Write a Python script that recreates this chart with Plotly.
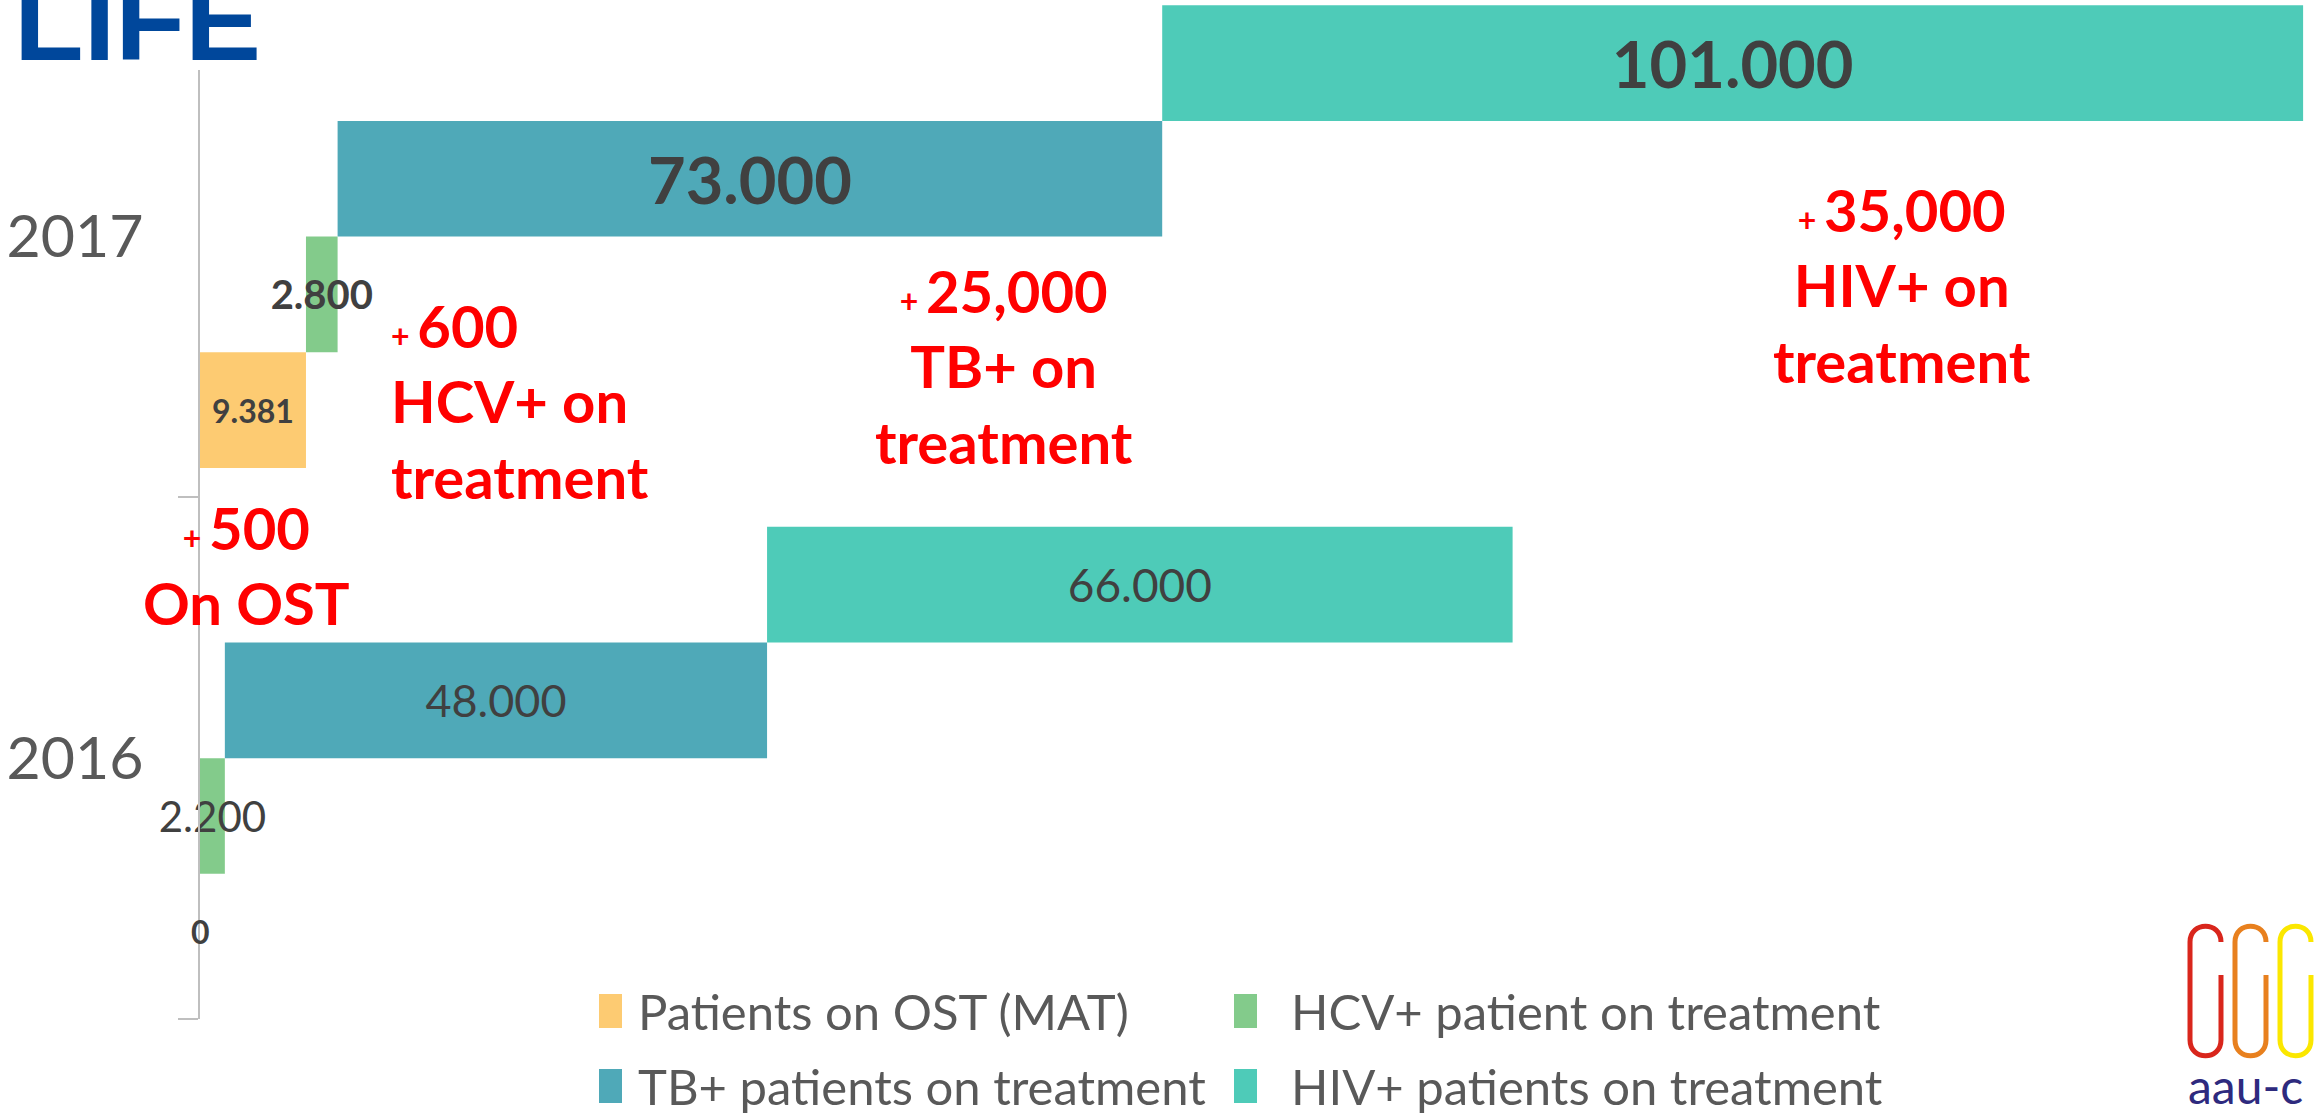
import numpy as np
import plotly.graph_objects as go

# ---------------- data ----------------
years = ["2016", "2017"]
series_names = [
    "Patients on OST (MAT)",
    "HCV+ patient on treatment",
    "TB+ patients on treatment",
    "HIV+ patients on treatment",
]
ost_values = [0, 9381]
hcv_values = [2200, 2800]
tb_values = [48000, 73000]
hiv_values = [66000, 101000]

increase_texts = [
    ("+", "500", ["On OST"]),
    ("+", "600", ["HCV+ on", "treatment"]),
    ("+", "25,000", ["TB+ on", "treatment"]),
    ("+", "35,000", ["HIV+ on", "treatment"]),
]

# ---------------- style ----------------
colors = ["#FDCB72", "#83CB8B", "#4FA9B8", "#4ECBB8"]
FONT = "Lato, 'Open Sans', sans-serif"
W, H = 2318, 1116
ML, MR, MT, MB = 200, 0, 0, 97
PW, PH = W - ML - MR, H - MT - MB
BARGAP = 0.113

def px2x(px):
    return (px - ML) / PW

def px2y(py):
    return (MT + PH - py) / PH

values = np.array([ost_values, hcv_values, tb_values, hiv_values])
bases = np.vstack([np.zeros((1, values.shape[1])), np.cumsum(values, axis=0)[:-1]])

# label sizes per series per year (2016, 2017)
label_sizes = [[32, 32], [42, 40], [45, 65], [46, 65]]

def fmt(v):
    return f"{int(v):,}".replace(",", ".")

fig = go.Figure()
annotations = []
shapes = []
n = len(series_names)
slot = (1 - BARGAP) / n
for k in range(n):
    texts = []
    for j, yr in enumerate(years):
        t = fmt(values[k][j])
        if j == 1 or values[k][j] == 0:
            t = f"<b>{t}</b>"
        texts.append(t)
    fig.add_trace(go.Bar(
        y=years, x=values[k], base=bases[k], orientation="h",
        name=series_names[k],
        marker=dict(color=colors[k], line=dict(width=0)),
        text=texts, textposition="inside", insidetextanchor="middle",
        textangle=0, constraintext="none", cliponaxis=False,
        insidetextfont=dict(family=FONT, size=label_sizes[k], color="#404040"),
        showlegend=False,
        hoverinfo="skip",
    ))
    # zero-width bars: plotly hides inside text, so label via annotation
    for j, yr in enumerate(years):
        if values[k][j] == 0:
            annotations.append(dict(
                x=bases[k][j], y=j + (k - (n - 1) / 2) * slot, xref="x", yref="y",
                text=texts[j], showarrow=False,
                font=dict(family=FONT, size=label_sizes[k][j], color="#404040"),
            ))

# legend (2 x 2 grid): swatch + label
leg_cols = [(599, 622, 636), (1234, 1257, 1289)]
leg_rows = [1011, 1086]
for k in range(n):
    sx0, sx1, tx = leg_cols[k % 2]
    cy = leg_rows[k // 2]
    shapes.append(dict(type="rect", xref="paper", yref="paper",
                       x0=px2x(sx0), x1=px2x(sx1), y0=px2y(cy + 17), y1=px2y(cy - 17),
                       fillcolor=colors[k], line=dict(width=0), layer="above"))
    annotations.append(dict(
        x=px2x(tx), y=px2y(cy), xref="paper", yref="paper", xanchor="left", yanchor="middle",
        text=series_names[k], showarrow=False,
        font=dict(family=FONT, size=49, color="#595959"),
    ))

# red increase annotations
inc_pos = [
    (246, 565, "center"),
    (389, 401, "left"),
    (1004, 366, "center"),
    (1902, 285, "center"),
]
for (plus, num, lines), (px, py, al) in zip(increase_texts, inc_pos):
    txt = f"<span style='font-size:32px'>{plus} </span>{num}<br>" + "<br>".join(lines)
    annotations.append(dict(
        x=px2x(px), y=px2y(py), xref="paper", yref="paper",
        xanchor="left" if al == "left" else "center", yanchor="middle", align=al,
        text=txt, showarrow=False,
        font=dict(family=FONT, size=58, color="#FF0000", weight="bold"),
    ))

# LIFE logo fragment
annotations.append(dict(
    x=px2x(12), y=px2y(-45), xref="paper", yref="paper", xanchor="left", yanchor="top",
    text="LIFE", showarrow=False,
    font=dict(family="Liberation Sans, Arial, sans-serif", size=114, color="#00479B", weight="bold"),
))
# aau logo text
annotations.append(dict(
    x=px2x(2186), y=px2y(1085), xref="paper", yref="paper", xanchor="left", yanchor="middle",
    text="aau-c", showarrow=False,
    font=dict(family=FONT, size=48, color="#2E2A7E"),
))

# hide the axis line behind the LIFE logo
shapes.append(dict(type="rect", xref="paper", yref="paper", x0=px2x(185), x1=px2x(215),
                   y0=px2y(70), y1=px2y(-5), fillcolor="white", line=dict(width=0), layer="above"))
# aau logo glyphs
for off, col in zip([0, 45, 90], ["#D9261C", "#E8801E", "#FBE700"]):
    xl, xr = 2190 + off, 2221 + off
    ym = 975
    def P(x, y):
        return f"{px2x(x):.5f},{px2y(y):.5f}"
    path = (f"M{P(xr, 942)} C{P(xr, 921)} {P(xl, 921)} {P(xl, 942)} "
            f"L{P(xl, 1040)} C{P(xl, 1061)} {P(xr, 1061)} {P(xr, 1040)} L{P(xr, ym)}")
    shapes.append(dict(type="path", xref="paper", yref="paper", path=path,
                       line=dict(color=col, width=5), layer="above"))

fig.update_layout(
    width=W, height=H,
    margin=dict(l=ML, r=MR, t=MT, b=MB, pad=0, autoexpand=False),
    barmode="group", bargap=BARGAP, bargroupgap=0,
    paper_bgcolor="white", plot_bgcolor="white",
    separators=",.",
    xaxis=dict(visible=False, range=[0, 187500]),
    yaxis=dict(
        type="category", categoryorder="array", categoryarray=years,
        range=[-0.5, 1.4535], tickson="boundaries", ticks="outside", ticklen=20,
        tickcolor="#BFBFBF", tickwidth=1.5, showline=True, linecolor="#BFBFBF", linewidth=1.5,
        showgrid=False, zeroline=False, ticklabelstandoff=43,
        tickfont=dict(family=FONT, size=59, color="#595959"),
    ),
    annotations=annotations,
    shapes=shapes,
    showlegend=False,
)

fig.write_html("out.html", config={"displayModeBar": False},
               post_script="document.body.style.margin='0';document.body.style.overflow='hidden';")
